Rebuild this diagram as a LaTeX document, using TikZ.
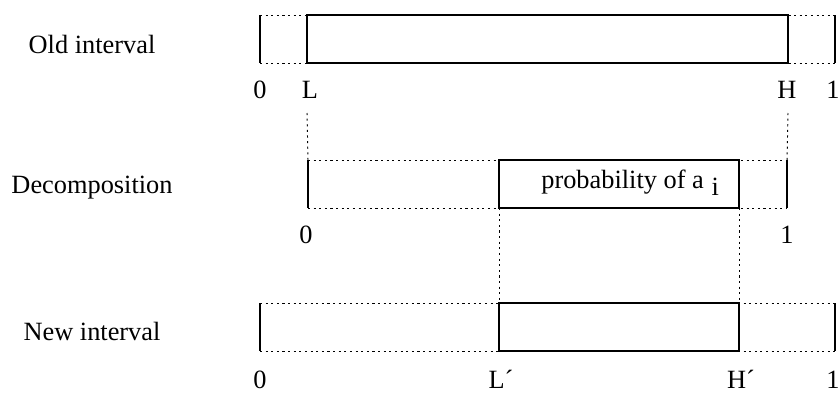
\documentclass[tikz,border=0pt]{standalone}
\usepackage{fontspec}
\setmainfont{Liberation Serif}
\usetikzlibrary{calc}

\tikzset{
  dotline/.style={line width=0.55pt, dash pattern=on 1.2pt off 2pt},
  solidline/.style={line width=0.6pt},
  rowlabel/.style={anchor=base, inner sep=0pt},
  ticklabel/.style={anchor=base, inner sep=0pt},
}

\begin{document}
\begin{tikzpicture}[x=0.02cm, y=-0.02cm, font=\fontsize{15}{18}\selectfont]
  \useasboundingbox (0,0) rectangle (838,392);
  % the three rows: name / top / left end / interval start / interval end / right end
  \foreach \row/\top/\a/\b/\c/\d in {old/15/260/307/788/835, dec/160/308/499/739/787, new/303/260/499/739/835} {
    \pgfmathsetmacro{\bot}{\top+48}
    \coordinate (\row-0t) at (\a,\top);  \coordinate (\row-0b) at (\a,\bot);
    \coordinate (\row-1t) at (\d,\top);  \coordinate (\row-1b) at (\d,\bot);
    \coordinate (\row-Lt) at (\b,\top);  \coordinate (\row-Lb) at (\b,\bot);
    \coordinate (\row-Ht) at (\c,\top);  \coordinate (\row-Hb) at (\c,\bot);
    \draw[dotline] (\row-0t) -- (\row-1t);
    \draw[dotline] (\row-0b) -- (\row-1b);
    \draw[solidline] (\row-0t) -- (\row-0b);
    \draw[solidline] (\row-1t) -- (\row-1b);
    \draw[solidline, fill=white] (\row-Lt) rectangle (\row-Hb);
  }

  % row names
  \node[rowlabel] (oldname) at (92,53)  {Old interval};
  \node[rowlabel] (decname) at (92,193) {Decomposition};
  \node[rowlabel] (newname) at (92,340) {New interval};

  % end points
  \node[ticklabel] (old0) at (260,98) {0};
  \node[ticklabel] (oldL) at (310,98) {L};
  \node[ticklabel] (oldH) at (787,98) {H};
  \node[ticklabel] (old1) at (833,98) {1};
  \node[ticklabel] (dec0) at (306,243) {0};
  \node[ticklabel] (dec1) at (787,243) {1};
  \node[ticklabel] (new0) at (260,388) {0};
  \node[ticklabel] (newL) at (501,388) {L´};
  \node[ticklabel] (newH) at (741,388) {H´};
  \node[ticklabel] (new1) at (833,388) {1};

  \node[anchor=base west, inner sep=0pt] (prob) at (541,188) {probability of a\hspace{0.3em}\raisebox{-4.5pt}{i}};

  % projections between the rows
  \coordinate (oldLdrop) at ($(old-Lb)+(0,50)$);
  \coordinate (oldHdrop) at ($(old-Hb)+(0,50)$);
  \draw[dotline] (oldLdrop) -- (dec-0t);
  \draw[dotline] (oldHdrop) -- (dec-1t);
  \draw[dotline] (dec-Lb) -- (new-Lt);
  \draw[dotline] (dec-Hb) -- (new-Ht);
\end{tikzpicture}
\end{document}
